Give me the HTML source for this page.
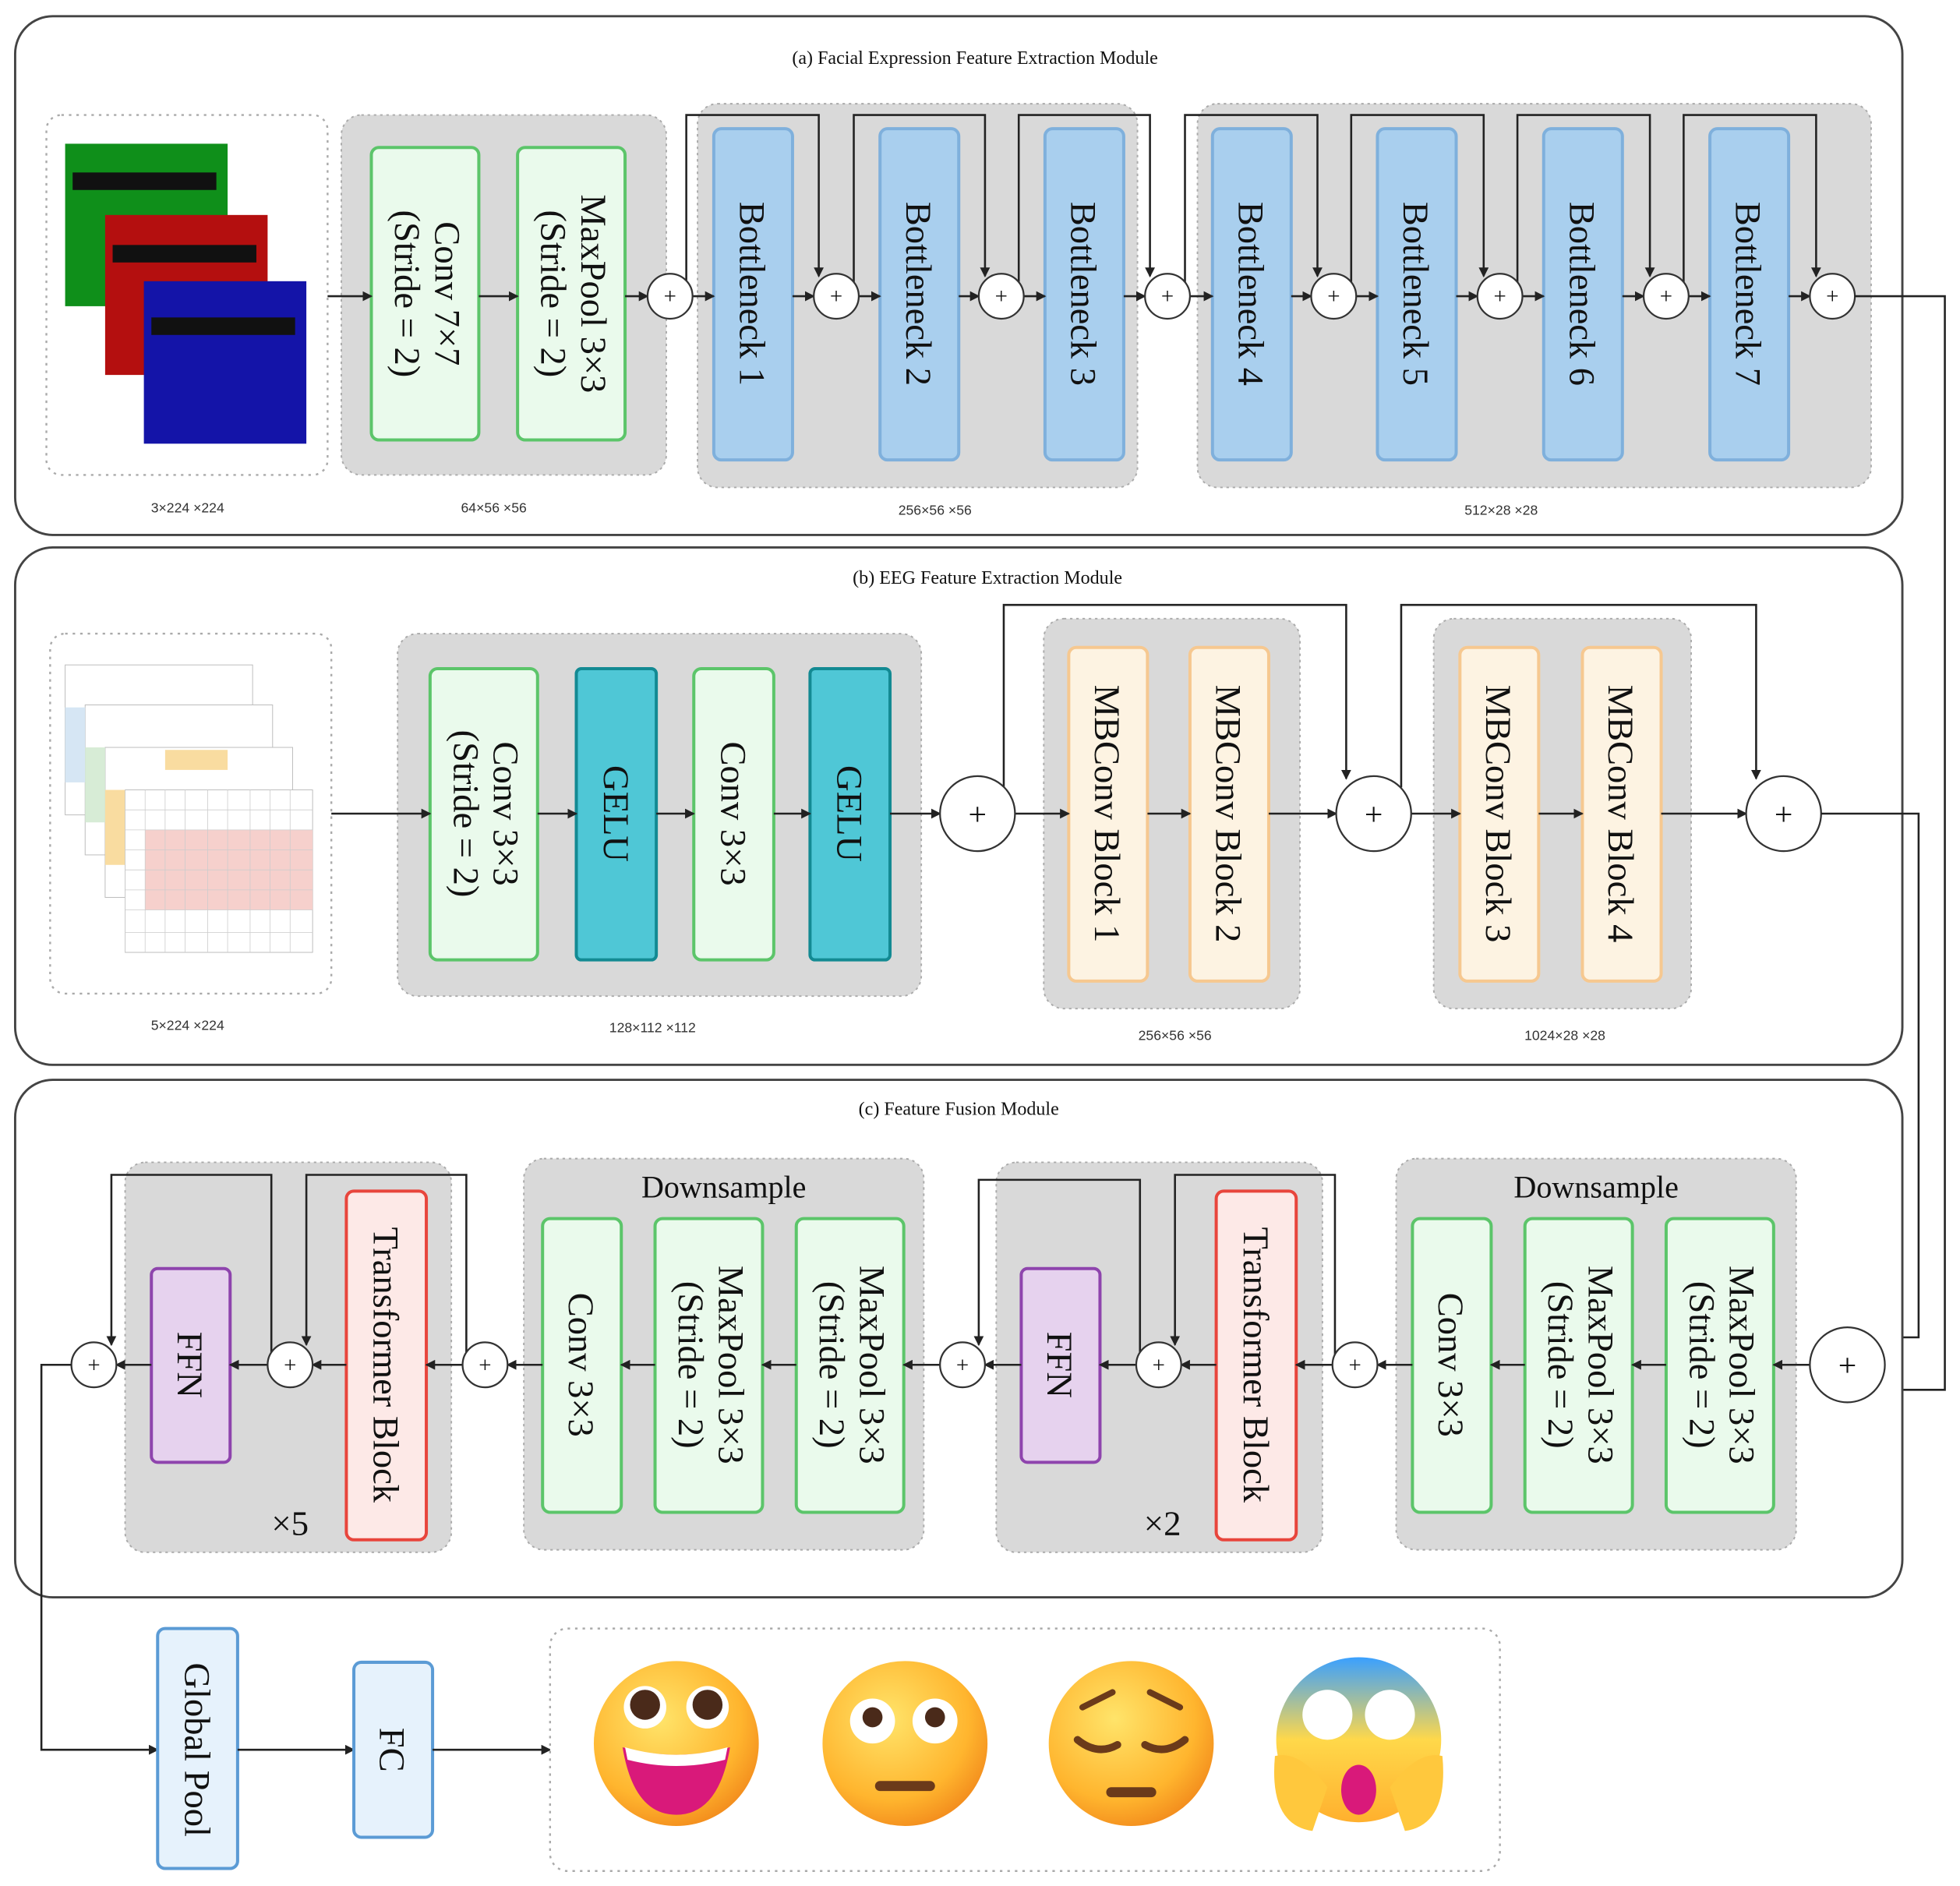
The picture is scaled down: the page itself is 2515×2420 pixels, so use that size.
<!DOCTYPE html>
<html><head><meta charset="utf-8"><style>
html,body{margin:0;padding:0;background:#fff}
svg{display:block}
text{font-family:"Liberation Serif",serif;fill:#111}
.s{font-size:11px;font-family:"Liberation Sans",sans-serif;fill:#333}
.t{font-size:15px}
.b{font-size:29px}
.gray{fill:#d9d9d9;stroke:#aaa;stroke-dasharray:2 3;stroke-width:1.2}
.gr{fill:#eafaec;stroke:#5cc56a;stroke-width:2.5}
.bl{fill:#a9cfee;stroke:#7fb0dc;stroke-width:2.5}
.te{fill:#4fc7d6;stroke:#138a93;stroke-width:2.5}
.or{fill:#fdf3e2;stroke:#f6c890;stroke-width:2.5}
.rd{fill:#fde9e7;stroke:#e8453c;stroke-width:2.5}
.pu{fill:#e6d2ee;stroke:#8e44ad;stroke-width:2.5}
.lb{fill:#e6f2fc;stroke:#5b9bd5;stroke-width:2.5}
.ln{fill:none;stroke:#222;stroke-width:1.6}
.pl{fill:#fff;stroke:#333;stroke-width:1.4}
.panel{fill:#fff;stroke:#444;stroke-width:1.8}
.dot{fill:#fff;stroke:#aaa;stroke-dasharray:2 4;stroke-width:1.5}
</style></head><body>
<svg width="2515" height="2420" viewBox="0 0 1568 1509" xmlns="http://www.w3.org/2000/svg">
<defs><marker id="a" markerWidth="8" markerHeight="8" refX="7" refY="4" orient="auto" markerUnits="userSpaceOnUse"><path d="M0,0 L8,4 L0,8 z" fill="#222"/></marker></defs>

<!-- Panel a -->
<rect class="panel" x="12" y="13" width="1510" height="415" rx="30"/>
<text class="t" x="780" y="51" text-anchor="middle">(a) Facial Expression Feature Extraction Module</text>
<rect class="dot" x="37" y="92" width="225" height="288" rx="12"/>
<rect x="52" y="115" width="130" height="130" fill="#0f8f1a"/><rect x="58" y="138" width="115" height="14" fill="#111"/>
<rect x="84" y="172" width="130" height="128" fill="#b40f0f"/><rect x="90" y="196" width="115" height="14" fill="#111"/>
<rect x="115" y="225" width="130" height="130" fill="#1414a8"/><rect x="121" y="254" width="115" height="14" fill="#111"/>
<text class="s" x="150" y="410" text-anchor="middle">3×224 ×224</text>
<rect class="gray" x="273" y="92" width="260" height="288" rx="16"/>
<rect class="gr" x="297" y="118" width="86" height="234" rx="6"/>
<text class="b" transform="translate(340,235) rotate(90)" text-anchor="middle" y="-8">Conv  7×7</text>
<text class="b" transform="translate(340,235) rotate(90)" text-anchor="middle" y="24">(Stride = 2)</text>
<rect class="gr" x="414" y="118" width="86" height="234" rx="6"/>
<text class="b" transform="translate(457,235) rotate(90)" text-anchor="middle" y="-8">MaxPool  3×3</text>
<text class="b" transform="translate(457,235) rotate(90)" text-anchor="middle" y="24">(Stride = 2)</text>
<text class="s" x="395" y="410" text-anchor="middle">64×56 ×56</text>
<rect class="gray" x="558" y="83" width="352" height="307" rx="16"/>
<rect class="gray" x="958" y="83" width="539" height="307" rx="16"/>
<text class="s" x="748" y="412" text-anchor="middle">256×56 ×56</text>
<text class="s" x="1201" y="412" text-anchor="middle">512×28 ×28</text>
<g>
<rect class="bl" x="571" y="103" width="63" height="265" rx="6"/><text class="b" transform="translate(602,235) rotate(90)" text-anchor="middle" y="10">Bottleneck 1</text>
<rect class="bl" x="704" y="103" width="63" height="265" rx="6"/><text class="b" transform="translate(735,235) rotate(90)" text-anchor="middle" y="10">Bottleneck 2</text>
<rect class="bl" x="836" y="103" width="63" height="265" rx="6"/><text class="b" transform="translate(867,235) rotate(90)" text-anchor="middle" y="10">Bottleneck 3</text>
<rect class="bl" x="970" y="103" width="63" height="265" rx="6"/><text class="b" transform="translate(1001,235) rotate(90)" text-anchor="middle" y="10">Bottleneck 4</text>
<rect class="bl" x="1102" y="103" width="63" height="265" rx="6"/><text class="b" transform="translate(1133,235) rotate(90)" text-anchor="middle" y="10">Bottleneck 5</text>
<rect class="bl" x="1235" y="103" width="63" height="265" rx="6"/><text class="b" transform="translate(1266,235) rotate(90)" text-anchor="middle" y="10">Bottleneck 6</text>
<rect class="bl" x="1368" y="103" width="63" height="265" rx="6"/><text class="b" transform="translate(1399,235) rotate(90)" text-anchor="middle" y="10">Bottleneck 7</text>
</g>
<!-- arrows a -->
<line class="ln" x1="262" y1="237" x2="297" y2="237" marker-end="url(#a)"/>
<line class="ln" x1="383" y1="237" x2="414" y2="237" marker-end="url(#a)"/>
<line class="ln" x1="500" y1="237" x2="518" y2="237" marker-end="url(#a)"/>
<line class="ln" x1="554" y1="237" x2="571" y2="237" marker-end="url(#a)"/>
<line class="ln" x1="634" y1="237" x2="651" y2="237" marker-end="url(#a)"/>
<line class="ln" x1="687" y1="237" x2="704" y2="237" marker-end="url(#a)"/>
<line class="ln" x1="767" y1="237" x2="783" y2="237" marker-end="url(#a)"/>
<line class="ln" x1="819" y1="237" x2="836" y2="237" marker-end="url(#a)"/>
<line class="ln" x1="899" y1="237" x2="916" y2="237" marker-end="url(#a)"/>
<line class="ln" x1="952" y1="237" x2="970" y2="237" marker-end="url(#a)"/>
<line class="ln" x1="1033" y1="237" x2="1049" y2="237" marker-end="url(#a)"/>
<line class="ln" x1="1085" y1="237" x2="1102" y2="237" marker-end="url(#a)"/>
<line class="ln" x1="1165" y1="237" x2="1182" y2="237" marker-end="url(#a)"/>
<line class="ln" x1="1218" y1="237" x2="1235" y2="237" marker-end="url(#a)"/>
<line class="ln" x1="1298" y1="237" x2="1315" y2="237" marker-end="url(#a)"/>
<line class="ln" x1="1351" y1="237" x2="1368" y2="237" marker-end="url(#a)"/>
<line class="ln" x1="1431" y1="237" x2="1448" y2="237" marker-end="url(#a)"/>
<polyline class="ln" points="549,237 549,92 655,92 655,221" marker-end="url(#a)"/>
<polyline class="ln" points="683,237 683,92 788,92 788,221" marker-end="url(#a)"/>
<polyline class="ln" points="815,237 815,92 920,92 920,221" marker-end="url(#a)"/>
<polyline class="ln" points="948,237 948,92 1054,92 1054,221" marker-end="url(#a)"/>
<polyline class="ln" points="1081,237 1081,92 1187,92 1187,221" marker-end="url(#a)"/>
<polyline class="ln" points="1214,237 1214,92 1320,92 1320,221" marker-end="url(#a)"/>
<polyline class="ln" points="1347,237 1347,92 1453,92 1453,221" marker-end="url(#a)"/>
<g class="pl">
<circle cx="536" cy="237" r="18"/><circle cx="669" cy="237" r="18"/><circle cx="801" cy="237" r="18"/><circle cx="934" cy="237" r="18"/>
<circle cx="1067" cy="237" r="18"/><circle cx="1200" cy="237" r="18"/><circle cx="1333" cy="237" r="18"/><circle cx="1466" cy="237" r="18"/>
</g>
<g font-size="18" text-anchor="middle"><text x="536" y="243">+</text><text x="669" y="243">+</text><text x="801" y="243">+</text><text x="934" y="243">+</text><text x="1067" y="243">+</text><text x="1200" y="243">+</text><text x="1333" y="243">+</text><text x="1466" y="243">+</text></g>
<polyline class="ln" points="1484,237 1556,237 1556,1112 1508,1112" marker-end="url(#a)"/>

<!-- Panel b -->
<rect class="panel" x="12" y="438" width="1510" height="414" rx="30"/>
<text class="t" x="790" y="467" text-anchor="middle">(b) EEG Feature Extraction Module</text>
<rect class="dot" x="40" y="507" width="225" height="288" rx="12"/>
<g stroke="#bbb" stroke-width="0.6" fill="#fff">
<rect x="52" y="532" width="150" height="120"/>
<rect x="68" y="564" width="150" height="120" fill="#fff"/>
<rect x="84" y="598" width="150" height="120"/>
<rect x="100" y="632" width="150" height="130"/>
</g>
<rect x="52" y="566" width="16" height="60" fill="#d6e6f4"/>
<rect x="68" y="598" width="16" height="60" fill="#d7ecd6"/>
<rect x="84" y="632" width="16" height="60" fill="#f9dca0"/>
<rect x="116" y="664" width="134" height="64" fill="#f6d0cc"/>
<rect x="132" y="600" width="50" height="16" fill="#f9dca0"/>
<g stroke="#ccc" stroke-width="0.5">
<path d="M100,632 V762 M116,632 V762 M132,632 V762 M148,632 V762 M166,632 V762 M182,632 V762 M200,632 V762 M216,632 V762 M232,632 V762 M100,648 H250 M100,664 H250 M100,680 H250 M100,696 H250 M100,712 H250 M100,728 H250 M100,746 H250"/>
</g>
<text class="s" x="150" y="824" text-anchor="middle">5×224 ×224</text>
<rect class="gray" x="318" y="507" width="419" height="290" rx="16"/>
<rect class="gr" x="344" y="535" width="86" height="233" rx="6"/>
<text class="b" transform="translate(387,651) rotate(90)" text-anchor="middle" y="-8">Conv  3×3</text>
<text class="b" transform="translate(387,651) rotate(90)" text-anchor="middle" y="24">(Stride = 2)</text>
<rect class="te" x="461" y="535" width="64" height="233" rx="4"/><text class="b" transform="translate(493,651) rotate(90)" text-anchor="middle" y="10">GELU</text>
<rect class="gr" x="555" y="535" width="64" height="233" rx="6"/><text class="b" transform="translate(587,651) rotate(90)" text-anchor="middle" y="10">Conv  3×3</text>
<rect class="te" x="648" y="535" width="64" height="233" rx="4"/><text class="b" transform="translate(680,651) rotate(90)" text-anchor="middle" y="10">GELU</text>
<text class="s" x="522" y="826" text-anchor="middle">128×112 ×112</text>
<rect class="gray" x="835" y="495" width="205" height="312" rx="16"/>
<rect class="gray" x="1147" y="495" width="206" height="312" rx="16"/>
<rect class="or" x="855" y="518" width="63" height="267" rx="6"/><text class="b" transform="translate(886,651) rotate(90)" text-anchor="middle" y="10">MBConv Block 1</text>
<rect class="or" x="952" y="518" width="63" height="267" rx="6"/><text class="b" transform="translate(983,651) rotate(90)" text-anchor="middle" y="10">MBConv Block 2</text>
<rect class="or" x="1168" y="518" width="63" height="267" rx="6"/><text class="b" transform="translate(1199,651) rotate(90)" text-anchor="middle" y="10">MBConv Block 3</text>
<rect class="or" x="1266" y="518" width="63" height="267" rx="6"/><text class="b" transform="translate(1297,651) rotate(90)" text-anchor="middle" y="10">MBConv Block 4</text>
<text class="s" x="940" y="832" text-anchor="middle">256×56 ×56</text>
<text class="s" x="1252" y="832" text-anchor="middle">1024×28 ×28</text>
<line class="ln" x1="265" y1="651" x2="344" y2="651" marker-end="url(#a)"/>
<line class="ln" x1="430" y1="651" x2="461" y2="651" marker-end="url(#a)"/>
<line class="ln" x1="525" y1="651" x2="555" y2="651" marker-end="url(#a)"/>
<line class="ln" x1="619" y1="651" x2="648" y2="651" marker-end="url(#a)"/>
<line class="ln" x1="712" y1="651" x2="752" y2="651" marker-end="url(#a)"/>
<line class="ln" x1="812" y1="651" x2="855" y2="651" marker-end="url(#a)"/>
<line class="ln" x1="918" y1="651" x2="952" y2="651" marker-end="url(#a)"/>
<line class="ln" x1="1015" y1="651" x2="1069" y2="651" marker-end="url(#a)"/>
<line class="ln" x1="1129" y1="651" x2="1168" y2="651" marker-end="url(#a)"/>
<line class="ln" x1="1231" y1="651" x2="1266" y2="651" marker-end="url(#a)"/>
<line class="ln" x1="1329" y1="651" x2="1397" y2="651" marker-end="url(#a)"/>
<polyline class="ln" points="803,630 803,484 1077,484 1077,623" marker-end="url(#a)"/>
<polyline class="ln" points="1121,630 1121,484 1405,484 1405,623" marker-end="url(#a)"/>
<g class="pl"><circle cx="782" cy="651" r="30"/><circle cx="1099" cy="651" r="30"/><circle cx="1427" cy="651" r="30"/></g>
<g font-size="26" text-anchor="middle"><text x="782" y="660">+</text><text x="1099" y="660">+</text><text x="1427" y="660">+</text></g>
<polyline class="ln" points="1457,651 1535,651 1535,1070 1502,1070" marker-end="url(#a)"/>

<!-- Panel c -->
<rect class="panel" x="12" y="864" width="1510" height="414" rx="30"/>
<text class="t" x="767" y="892" text-anchor="middle">(c) Feature Fusion Module</text>
<g>
<rect class="gray" x="1117" y="927" width="320" height="313" rx="16"/>
<text x="1277" y="958" text-anchor="middle" font-size="25">Downsample</text>
<rect class="gr" x="1130" y="975" width="63" height="235" rx="6"/><text class="b" transform="translate(1161,1092) rotate(90)" text-anchor="middle" y="10">Conv  3×3</text>
<rect class="gr" x="1220" y="975" width="86" height="235" rx="6"/>
<text class="b" transform="translate(1263,1092) rotate(90)" text-anchor="middle" y="-8">MaxPool  3×3</text>
<text class="b" transform="translate(1263,1092) rotate(90)" text-anchor="middle" y="24">(Stride = 2)</text>
<rect class="gr" x="1333" y="975" width="86" height="235" rx="6"/>
<text class="b" transform="translate(1376,1092) rotate(90)" text-anchor="middle" y="-8">MaxPool  3×3</text>
<text class="b" transform="translate(1376,1092) rotate(90)" text-anchor="middle" y="24">(Stride = 2)</text>

<rect class="gray" x="419" y="927" width="320" height="313" rx="16"/>
<text x="579" y="958" text-anchor="middle" font-size="25">Downsample</text>
<rect class="gr" x="434" y="975" width="63" height="235" rx="6"/><text class="b" transform="translate(465,1092) rotate(90)" text-anchor="middle" y="10">Conv  3×3</text>
<rect class="gr" x="524" y="975" width="86" height="235" rx="6"/>
<text class="b" transform="translate(567,1092) rotate(90)" text-anchor="middle" y="-8">MaxPool  3×3</text>
<text class="b" transform="translate(567,1092) rotate(90)" text-anchor="middle" y="24">(Stride = 2)</text>
<rect class="gr" x="637" y="975" width="86" height="235" rx="6"/>
<text class="b" transform="translate(680,1092) rotate(90)" text-anchor="middle" y="-8">MaxPool  3×3</text>
<text class="b" transform="translate(680,1092) rotate(90)" text-anchor="middle" y="24">(Stride = 2)</text>

<rect class="gray" x="797" y="930" width="261" height="312" rx="16"/>
<rect class="rd" x="973" y="953" width="64" height="279" rx="6"/><text class="b" transform="translate(1005,1092) rotate(90)" text-anchor="middle" y="10">Transformer Block</text>
<rect class="pu" x="817" y="1015" width="63" height="155" rx="5"/><text class="b" transform="translate(848,1092) rotate(90)" text-anchor="middle" y="10">FFN</text>
<text x="930" y="1228" text-anchor="middle" font-size="28">×2</text>

<rect class="gray" x="100" y="930" width="261" height="312" rx="16"/>
<rect class="rd" x="277" y="953" width="64" height="279" rx="6"/><text class="b" transform="translate(309,1092) rotate(90)" text-anchor="middle" y="10">Transformer Block</text>
<rect class="pu" x="121" y="1015" width="63" height="155" rx="5"/><text class="b" transform="translate(152,1092) rotate(90)" text-anchor="middle" y="10">FFN</text>
<text x="232" y="1228" text-anchor="middle" font-size="28">×5</text>
</g>
<line class="ln" x1="1448" y1="1092" x2="1419" y2="1092" marker-end="url(#a)"/>
<line class="ln" x1="1333" y1="1092" x2="1306" y2="1092" marker-end="url(#a)"/>
<line class="ln" x1="1220" y1="1092" x2="1193" y2="1092" marker-end="url(#a)"/>
<line class="ln" x1="1130" y1="1092" x2="1102" y2="1092" marker-end="url(#a)"/>
<line class="ln" x1="1066" y1="1092" x2="1037" y2="1092" marker-end="url(#a)"/>
<line class="ln" x1="973" y1="1092" x2="945" y2="1092" marker-end="url(#a)"/>
<line class="ln" x1="909" y1="1092" x2="880" y2="1092" marker-end="url(#a)"/>
<line class="ln" x1="817" y1="1092" x2="788" y2="1092" marker-end="url(#a)"/>
<line class="ln" x1="752" y1="1092" x2="723" y2="1092" marker-end="url(#a)"/>
<line class="ln" x1="637" y1="1092" x2="610" y2="1092" marker-end="url(#a)"/>
<line class="ln" x1="524" y1="1092" x2="497" y2="1092" marker-end="url(#a)"/>
<line class="ln" x1="434" y1="1092" x2="406" y2="1092" marker-end="url(#a)"/>
<line class="ln" x1="370" y1="1092" x2="341" y2="1092" marker-end="url(#a)"/>
<line class="ln" x1="277" y1="1092" x2="250" y2="1092" marker-end="url(#a)"/>
<line class="ln" x1="214" y1="1092" x2="184" y2="1092" marker-end="url(#a)"/>
<line class="ln" x1="121" y1="1092" x2="93" y2="1092" marker-end="url(#a)"/>
<polyline class="ln" points="1068,1092 1068,940 940,940 940,1076" marker-end="url(#a)"/>
<polyline class="ln" points="912,1092 912,944 783,944 783,1076" marker-end="url(#a)"/>
<polyline class="ln" points="373,1092 373,940 245,940 245,1076" marker-end="url(#a)"/>
<polyline class="ln" points="217,1092 217,940 89,940 89,1076" marker-end="url(#a)"/>
<g class="pl"><circle cx="1478" cy="1092" r="30"/>
<circle cx="1084" cy="1092" r="18"/><circle cx="927" cy="1092" r="18"/><circle cx="770" cy="1092" r="18"/>
<circle cx="388" cy="1092" r="18"/><circle cx="232" cy="1092" r="18"/><circle cx="75" cy="1092" r="18"/></g>
<g text-anchor="middle"><text x="1478" y="1101" font-size="26">+</text>
<g font-size="18"><text x="1084" y="1098">+</text><text x="927" y="1098">+</text><text x="770" y="1098">+</text><text x="388" y="1098">+</text><text x="232" y="1098">+</text><text x="75" y="1098">+</text></g></g>

<!-- bottom -->
<polyline class="ln" points="57,1092 33,1092 33,1400 126,1400" marker-end="url(#a)"/>
<rect class="lb" x="126" y="1303" width="64" height="192" rx="6"/><text class="b" transform="translate(158,1400) rotate(90)" text-anchor="middle" y="10">Global Pool</text>
<line class="ln" x1="190" y1="1400" x2="283" y2="1400" marker-end="url(#a)"/>
<rect class="lb" x="283" y="1330" width="63" height="140" rx="6"/><text class="b" transform="translate(314,1400) rotate(90)" text-anchor="middle" y="10">FC</text>
<line class="ln" x1="346" y1="1400" x2="440" y2="1400" marker-end="url(#a)"/>
<rect class="dot" x="440" y="1303" width="760" height="194" rx="14"/>
<defs>
<radialGradient id="e" cx="40%" cy="35%" r="70%"><stop offset="0" stop-color="#ffe46a"/><stop offset="0.7" stop-color="#ffb52e"/><stop offset="1" stop-color="#f28a1c"/></radialGradient>
<linearGradient id="f" x1="0" y1="0" x2="0" y2="1"><stop offset="0" stop-color="#3aa0ff"/><stop offset="0.5" stop-color="#ffd84a"/><stop offset="1" stop-color="#ffb02e"/></linearGradient>
</defs>
<circle cx="541" cy="1395" r="66" fill="url(#e)"/>
<circle cx="516" cy="1366" r="17" fill="#fff"/><circle cx="516" cy="1364" r="12" fill="#4a2a1a"/>
<circle cx="566" cy="1366" r="17" fill="#fff"/><circle cx="566" cy="1364" r="12" fill="#4a2a1a"/>
<path d="M498,1398 Q541,1410 584,1398 Q575,1452 541,1452 Q507,1452 498,1398 z" fill="#d9197a"/>
<path d="M500,1398 Q541,1410 582,1398 L580,1408 Q541,1418 502,1408 z" fill="#fff"/>
<circle cx="724" cy="1395" r="66" fill="url(#e)"/>
<circle cx="698" cy="1377" r="18" fill="#fff"/><circle cx="698" cy="1374" r="8" fill="#4a2a1a"/>
<circle cx="748" cy="1377" r="18" fill="#fff"/><circle cx="748" cy="1374" r="8" fill="#4a2a1a"/>
<rect x="700" y="1425" width="48" height="8" rx="4" fill="#6b3a1a"/>
<circle cx="905" cy="1395" r="66" fill="url(#e)"/>
<path d="M862,1392 Q878,1405 894,1396 M916,1396 Q932,1405 948,1392" stroke="#6b3a1a" stroke-width="6" fill="none" stroke-linecap="round"/>
<path d="M866,1366 L890,1354 M944,1366 L920,1354" stroke="#6b3a1a" stroke-width="5" stroke-linecap="round"/>
<rect x="885" y="1430" width="40" height="8" rx="4" fill="#6b3a1a"/>
<circle cx="1087" cy="1392" r="66" fill="url(#f)"/>
<circle cx="1062" cy="1372" r="20" fill="#fff"/><circle cx="1112" cy="1372" r="20" fill="#fff"/>
<ellipse cx="1087" cy="1432" rx="14" ry="20" fill="#d9197a"/>
<path d="M1020,1405 Q1015,1460 1050,1465 L1062,1430 Q1040,1400 1020,1405 z" fill="#ffc83d"/>
<path d="M1154,1405 Q1159,1460 1124,1465 L1112,1430 Q1134,1400 1154,1405 z" fill="#ffc83d"/>
</svg>
</body></html>
